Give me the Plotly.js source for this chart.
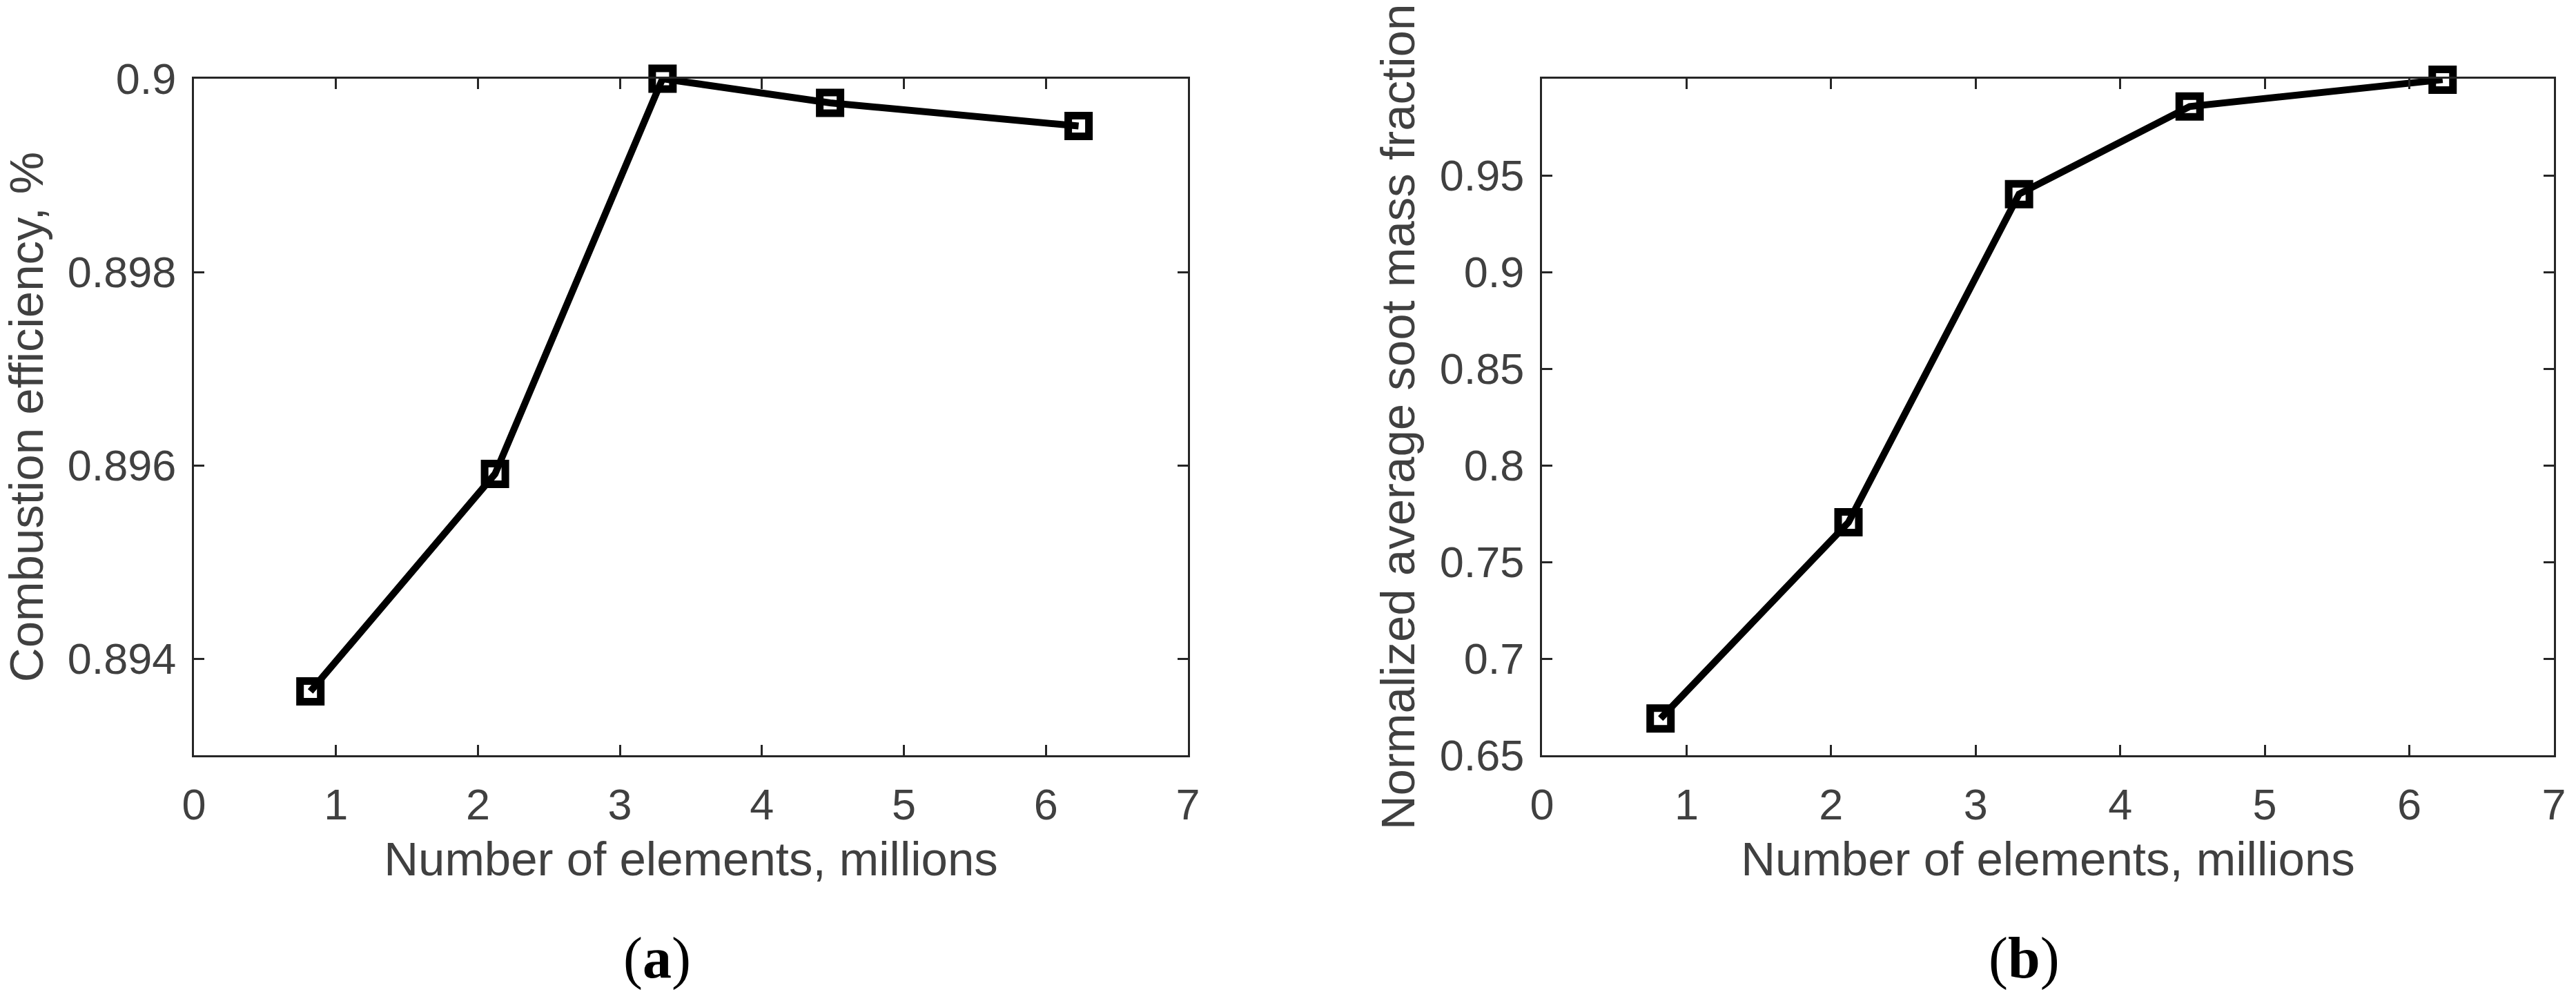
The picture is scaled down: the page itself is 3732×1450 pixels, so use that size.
<!DOCTYPE html>
<html>
<head>
<meta charset="utf-8">
<script src="https://cdn.plot.ly/plotly-3.0.1.min.js"></script>
<style>html,body{margin:0;padding:0;background:#fff;}#plot{width:3732px;height:1450px;}</style>
</head>
<body>
<div id="plot"></div>
<script>
// Data
const elementsMillions = [0.82, 2.12, 3.30, 4.48, 6.23];
const combustionEfficiency = [0.89366, 0.89591, 0.90000, 0.89975, 0.89951];
const normalizedSoot = [0.669, 0.7705, 0.9403, 0.9856, 0.9995];

const xTickVals = [0, 1, 2, 3, 4, 5, 6, 7];
const yTickValsA = [0.894, 0.896, 0.898, 0.9];
const yTickTextA = ['0.894', '0.896', '0.898', '0.9'];
const yTickValsB = [0.65, 0.7, 0.75, 0.8, 0.85, 0.9, 0.95];
const yTickTextB = ['0.65', '0.7', '0.75', '0.8', '0.85', '0.9', '0.95'];

const xTitle = 'Number of elements, millions';
const yTitleA = 'Combustion efficiency, %';
const yTitleB = 'Normalized average soot mass fraction';
const panelLabels = ['(<b>a</b>)', '(<b>b</b>)'];

const W = 3732, H = 1450;
const axCol = '#262626';
const txtCol = '#404040';
const tickFont = {family: 'Liberation Sans, Arial, sans-serif', size: 63, color: txtCol};
const titleFont = {family: 'Liberation Sans, Arial, sans-serif', size: 69, color: txtCol};

const lineStyle = {color: '#000000', width: 10};
const markerStyle = {symbol: 'square-open', size: 30, color: '#000000', line: {color: '#000000', width: 11}};

const traces = [
  {x: elementsMillions, y: combustionEfficiency, xaxis: 'x', yaxis: 'y', mode: 'lines+markers',
   line: lineStyle, marker: markerStyle, showlegend: false, cliponaxis: false},
  {x: elementsMillions, y: normalizedSoot, xaxis: 'x2', yaxis: 'y2', mode: 'lines+markers',
   line: lineStyle, marker: markerStyle, showlegend: false, cliponaxis: false}
];

const yDom = [(H - 1094) / H, (H - 114) / H];
function xAxis(domain, anchor) {
  return {
    domain: domain, anchor: anchor, range: [0, 7], tickvals: xTickVals,
    ticks: 'inside', ticklen: 15, tickwidth: 3, tickcolor: axCol,
    showline: true, linecolor: axCol, linewidth: 3, mirror: 'ticks',
    showgrid: false, zeroline: false, tickfont: tickFont,
    ticklabelstandoff: 14,
    title: {text: xTitle, font: titleFont, standoff: 22},
    automargin: false
  };
}
function yAxis(range, vals, text, title, anchor) {
  return {
    domain: yDom, anchor: anchor, range: range, tickvals: vals, ticktext: text,
    ticks: 'inside', ticklen: 15, tickwidth: 3, tickcolor: axCol,
    showline: true, linecolor: axCol, linewidth: 3, mirror: 'ticks',
    showgrid: false, zeroline: false, tickfont: tickFont,
    ticklabelstandoff: 10,
    title: {text: title, font: titleFont, standoff: 14},
    automargin: false
  };
}

const layout = {
  width: W, height: H,
  margin: {l: 0, r: 0, t: 0, b: 0},
  paper_bgcolor: '#ffffff', plot_bgcolor: '#ffffff',
  xaxis: xAxis([281 / W, 1721 / W], 'y'),
  yaxis: yAxis([0.893, 0.9], yTickValsA, yTickTextA, yTitleA, 'x'),
  xaxis2: xAxis([2234 / W, 3700 / W], 'y2'),
  yaxis2: yAxis([0.65, 1.0], yTickValsB, yTickTextB, yTitleB, 'x2'),
  annotations: [
    {text: panelLabels[0], xref: 'paper', yref: 'paper', x: 952 / W, y: (H - 1388) / H,
     xanchor: 'center', yanchor: 'middle', showarrow: false,
     font: {family: 'Liberation Serif, Times New Roman, serif', size: 84, color: '#000000'}},
    {text: panelLabels[1], xref: 'paper', yref: 'paper', x: 2932 / W, y: (H - 1388) / H,
     xanchor: 'center', yanchor: 'middle', showarrow: false,
     font: {family: 'Liberation Serif, Times New Roman, serif', size: 84, color: '#000000'}}
  ]
};

Plotly.newPlot('plot', traces, layout, {staticPlot: true, displayModeBar: false});
</script>
</body>
</html>
